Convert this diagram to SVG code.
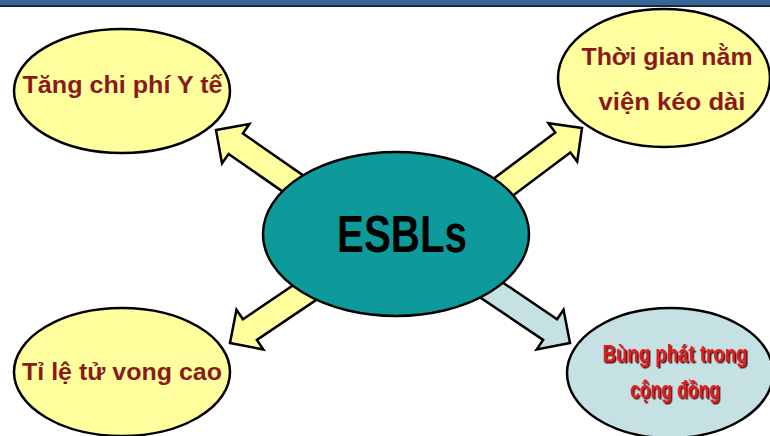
<svg xmlns="http://www.w3.org/2000/svg" width="770" height="436" viewBox="0 0 770 436">
<defs>
<style>
.ell{stroke:#000;stroke-width:2.5}
.yel{fill:#FFFF9E}
.arr{stroke:#000;stroke-width:2.5;stroke-linejoin:miter}
.lbl{font-family:"Liberation Sans",Arial,sans-serif;font-weight:bold;font-size:23px;fill:#8A1A1A;text-anchor:middle}
.red{font-family:"Liberation Sans",Arial,sans-serif;font-weight:bold;font-size:24px;fill:#E31A1A;text-anchor:middle;filter:url(#shd)}
</style>
<filter id="shd" x="-10%" y="-20%" width="120%" height="150%">
<feDropShadow dx="1.5" dy="1.5" stdDeviation="0.6" flood-color="#4A0000" flood-opacity="0.9"/>
</filter>
<polygon id="arrow" points="0,0 -24,-24 -24,-12.5 -115,-12.5 -115,12.5 -24,12.5 -24,24"/>
</defs>
<rect x="0" y="0" width="770" height="436" fill="#FFFFFF"/>
<rect x="0" y="0" width="770" height="5" fill="#3A6599"/>
<rect x="0" y="5" width="770" height="2" fill="#1C2A3C"/>
<g id="connectors">
<use href="#arrow" class="arr yel" transform="translate(216,130) rotate(214.8)"/>
<use href="#arrow" class="arr yel" transform="translate(582,128) rotate(-36.9)"/>
<use href="#arrow" class="arr yel" transform="translate(230,343) rotate(146)"/>
<use href="#arrow" class="arr" fill="#C5E1E4" transform="translate(570,343) rotate(34)"/>
</g>
<g id="esbls">
<ellipse cx="396" cy="234" rx="133" ry="82" class="ell" fill="#0E9A9A"/>
<text x="402" y="252" font-family="'Liberation Sans',Arial,sans-serif" font-weight="bold" font-size="51" fill="#000" text-anchor="middle" textLength="130" lengthAdjust="spacingAndGlyphs">ESBLs</text>
</g>
<g id="chiphi">
<ellipse cx="122" cy="91" rx="108" ry="62" class="ell yel"/>
<text x="122.5" y="93" class="lbl" textLength="200" lengthAdjust="spacingAndGlyphs">Tăng chi phí Y tế</text>
</g>
<g id="thoigian">
<ellipse cx="664" cy="78" rx="106" ry="69" class="ell yel"/>
<text x="667" y="65" class="lbl" textLength="171" lengthAdjust="spacingAndGlyphs">Thời gian nằm</text>
<text x="672" y="110" class="lbl" textLength="147" lengthAdjust="spacingAndGlyphs">viện kéo dài</text>
</g>
<g id="tile">
<ellipse cx="122" cy="372" rx="108" ry="64" class="ell yel"/>
<text x="122" y="380" class="lbl" textLength="200" lengthAdjust="spacingAndGlyphs">Tỉ lệ tử vong cao</text>
</g>
<g id="bungphat">
<ellipse cx="670" cy="373" rx="103" ry="65" class="ell" fill="#C5E1E4"/>
<text x="675" y="362" class="red" textLength="145" lengthAdjust="spacingAndGlyphs">Bùng phát trong</text>
<text x="675" y="398" class="red" textLength="90" lengthAdjust="spacingAndGlyphs">cộng đồng</text>
</g>
</svg>
